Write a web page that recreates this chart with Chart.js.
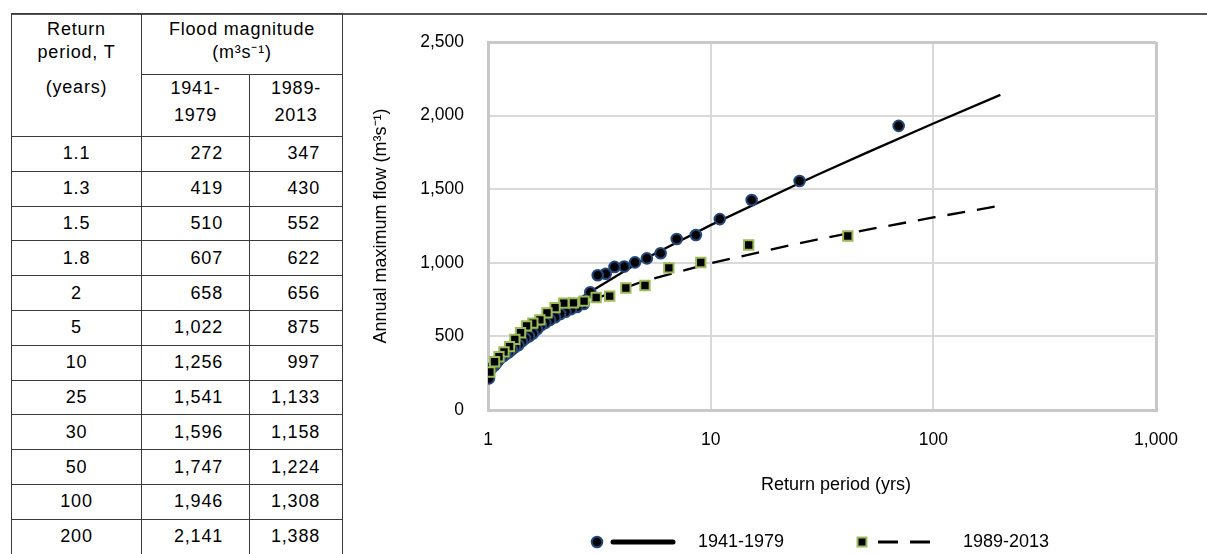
<!DOCTYPE html>
<html>
<head>
<meta charset="utf-8">
<title>Flood frequency</title>
<script src="https://cdn.jsdelivr.net/npm/chart.js@4.4.1/dist/chart.umd.min.js"></script>
<style>
  html, body { margin: 0; padding: 0; background: #fff; width: 1207px; height: 554px; overflow: hidden;
    font-family: "Liberation Sans", Arial, sans-serif; }
  #topRule { position: absolute; left: 11px; top: 13px; width: 1196px; height: 0; border-top: 2px solid #555; }
  #tbl { position: absolute; left: 11px; top: 13px; border-collapse: collapse; table-layout: fixed; width: 331px; }
  #tbl td { border: 1.5px solid #3a3a3a; padding: 0; font-size: 18px; letter-spacing: 0.8px; color: #000;
    line-height: 23px; overflow: hidden; font-weight: normal; white-space: nowrap; }
  #tbl td.c { text-align: center; }
  #tbl td.r { text-align: right; padding-right: 26px; }
  #tbl tr.data td { height: 33.8px; vertical-align: middle; }
  #chartBox { position: absolute; left: 345px; top: 0; width: 862px; height: 554px; }
</style>
</head>
<body>
<div id="topRule"></div>
<table id="tbl">
  <colgroup><col style="width:130px"><col style="width:108px"><col style="width:93px"></colgroup>
  <tbody id="tbody">
    <tr style="height:61px">
      <td class="c" rowspan="2" style="vertical-align:top;padding-top:4px">
        Return<br>period, T
        <div style="margin-top:12px">(years)</div>
      </td>
      <td class="c" colspan="2" style="vertical-align:top;padding-top:4px">Flood magnitude<br>(m³s⁻¹)</td>
    </tr>
    <tr style="height:62px">
      <td class="c" style="vertical-align:top;padding-top:0;line-height:27px">1941-<br>1979</td>
      <td class="c" style="vertical-align:top;padding-top:0;line-height:27px">1989-<br>2013</td>
    </tr>
  </tbody>
</table>
<div id="chartBox"><canvas id="chart" width="862" height="554"></canvas></div>

<script>
// Return periods and fitted flood magnitudes (m3/s) for the two records
const returnPeriods = [1.1, 1.3, 1.5, 1.8, 2, 5, 10, 25, 30, 50, 100, 200];
const flood1941 = [272, 419, 510, 607, 658, 1022, 1256, 1541, 1596, 1747, 1946, 2141];
const flood1989 = [347, 430, 552, 622, 656, 875, 997, 1133, 1158, 1224, 1308, 1388];

// Observed annual maxima, ranked, with their plotting-position return periods
const obsT1941 = [69.86, 25.08, 15.28, 10.99, 8.58, 7.04, 5.96, 5.17, 4.57, 4.09, 3.70, 3.38, 3.11,
  2.88, 2.69, 2.51, 2.36, 2.23, 2.11, 2.00, 1.90, 1.81, 1.73, 1.66, 1.59, 1.53, 1.47, 1.42, 1.37,
  1.32, 1.28, 1.24, 1.20, 1.17, 1.13, 1.10, 1.07, 1.04, 1.01];
const obsQ1941 = [1930, 1556, 1427, 1297, 1189, 1162, 1065, 1030, 1003, 975, 972, 926, 915,
  800, 720, 700, 685, 668, 652, 630, 612, 592, 575, 548, 520, 500, 486, 466, 442,
  426, 410, 392, 378, 365, 350, 330, 305, 285, 215];

const obsT1989 = [41.29, 14.82, 9.03, 6.49, 5.07, 4.16, 3.52, 3.06, 2.70, 2.42, 2.19, 2.00,
  1.84, 1.71, 1.59, 1.49, 1.40, 1.32, 1.25, 1.18, 1.12, 1.07, 1.02];
const obsQ1989 = [1182, 1121, 1002, 965, 846, 829, 774, 764, 740, 728, 726, 695,
  660, 612, 590, 572, 525, 480, 430, 395, 362, 328, 258];

const seriesNames = ['1941-1979', '1989-2013'];
const xTicks = [1, 10, 100, 1000];
const yTicks = [0, 500, 1000, 1500, 2000, 2500];

const fmt = v => Number(v).toLocaleString('en-US');

// Table rows
const tbody = document.getElementById('tbody');
returnPeriods.forEach((t, i) => {
  const tr = document.createElement('tr');
  tr.className = 'data';
  tr.innerHTML = '<td class="c">' + t + '</td>' +
    '<td class="r">' + fmt(flood1941[i]) + '</td>' +
    '<td class="r" style="padding-right:22px">' + fmt(flood1989[i]) + '</td>';
  tbody.appendChild(tr);
});

const pts = (xs, ys) => xs.map((x, i) => ({ x: x, y: ys[i] }));

const FONT = "'Liberation Sans', Arial, sans-serif";
Chart.defaults.font.family = FONT;
Chart.defaults.color = '#000';

const circleStyle = { radius: 5.3, borderWidth: 2, fill: '#000', stroke: '#24477a' };
const squareStyle = { radius: 6.6, borderWidth: 2, fill: '#000', stroke: '#9bbb59' };

// Legend row and x-axis title drawn under the plot
const legendRow = {
  id: 'legendRow',
  afterDraw(chart) {
    const ctx = chart.ctx;
    ctx.save();
    ctx.fillStyle = '#000';
    ctx.textBaseline = 'middle';
    ctx.font = '18px ' + FONT;
    ctx.textAlign = 'center';
    ctx.fillText('Return period (yrs)', 491, 485);

    const ly = 542;
    ctx.textAlign = 'left';
    // solid series
    ctx.strokeStyle = '#000';
    ctx.lineWidth = 5;
    ctx.lineCap = 'round';
    ctx.beginPath(); ctx.moveTo(268, ly); ctx.lineTo(328, ly); ctx.stroke();
    ctx.fillStyle = circleStyle.fill; ctx.strokeStyle = circleStyle.stroke; ctx.lineWidth = circleStyle.borderWidth;
    Chart.helpers.drawPoint(ctx, { pointStyle: 'circle', radius: circleStyle.radius, borderWidth: 2 }, 252, ly);
    ctx.fillStyle = '#000';
    ctx.fillText(seriesNames[0], 353, ly);

    // dashed series
    ctx.strokeStyle = '#000';
    ctx.lineWidth = 3;
    ctx.lineCap = 'butt';
    ctx.beginPath(); ctx.moveTo(533, ly); ctx.lineTo(553, ly); ctx.moveTo(565, ly); ctx.lineTo(585, ly); ctx.stroke();
    ctx.fillStyle = squareStyle.fill; ctx.strokeStyle = squareStyle.stroke; ctx.lineWidth = squareStyle.borderWidth;
    Chart.helpers.drawPoint(ctx, { pointStyle: 'rect', radius: 6.3, borderWidth: 2 }, 517, ly);
    ctx.fillStyle = '#000';
    ctx.fillText(seriesNames[1], 618, ly);
    ctx.restore();
  }
};

const isEdge = (scale, v) => v === scale.min || v === scale.max;

new Chart(document.getElementById('chart'), {
  type: 'scatter',
  data: {
    datasets: [
      {
        label: seriesNames[1], data: pts(obsT1989, obsQ1989), order: 0,
        pointStyle: 'rect', pointRadius: squareStyle.radius, borderWidth: 2,
        backgroundColor: squareStyle.fill, borderColor: squareStyle.stroke
      },
      {
        label: seriesNames[0], data: pts(obsT1941, obsQ1941), order: 1,
        pointStyle: 'circle', pointRadius: circleStyle.radius, borderWidth: 2,
        backgroundColor: circleStyle.fill, borderColor: circleStyle.stroke
      },
      {
        label: seriesNames[1] + ' fit', data: pts(returnPeriods, flood1989), order: 2,
        showLine: true, pointRadius: 0, borderColor: '#000', borderWidth: 2.3,
        borderDash: [18, 12], tension: 0, fill: false
      },
      {
        label: seriesNames[0] + ' fit', data: pts(returnPeriods, flood1941), order: 3,
        showLine: true, pointRadius: 0, borderColor: '#000', borderWidth: 2.3,
        tension: 0, fill: false
      }
    ]
  },
  options: {
    responsive: false,
    animation: false,
    devicePixelRatio: 1,
    layout: { padding: { top: 42, right: 51, left: 0, bottom: 0 } },
    plugins: { legend: { display: false }, tooltip: { enabled: false } },
    scales: {
      x: {
        type: 'logarithmic', min: 1, max: 1000,
        afterBuildTicks: s => { s.ticks = xTicks.map(v => ({ value: v })); },
        afterFit: s => { s.height = 144; },
        ticks: { callback: v => fmt(v), padding: 20, maxRotation: 0, autoSkip: false, font: { size: 17.5 }, color: '#000' },
        grid: {
          drawTicks: false,
          color: c => (c.tick && isEdge(c.scale, c.tick.value)) ? '#c8c8c8' : '#d9d9d9',
          lineWidth: c => (c.tick && isEdge(c.scale, c.tick.value)) ? 3 : 2
        },
        border: { display: true, color: '#c8c8c8', width: 3 }
      },
      y: {
        min: 0, max: 2500,
        afterBuildTicks: s => { s.ticks = yTicks.map(v => ({ value: v })); },
        afterFit: s => { s.width = 143; },
        ticks: { callback: v => fmt(v), padding: 24, font: { size: 17.5 }, color: '#000' },
        title: { display: true, text: 'Annual maximum flow (m³s⁻¹)', font: { size: 18 }, color: '#000', padding: { top: 25, bottom: 0 } },
        grid: {
          drawTicks: false,
          color: c => (c.tick && isEdge(c.scale, c.tick.value)) ? '#c8c8c8' : '#d9d9d9',
          lineWidth: c => (c.tick && isEdge(c.scale, c.tick.value)) ? 3 : 2
        },
        border: { display: true, color: '#c8c8c8', width: 3 }
      }
    }
  },
  plugins: [legendRow]
});
</script>
</body>
</html>
